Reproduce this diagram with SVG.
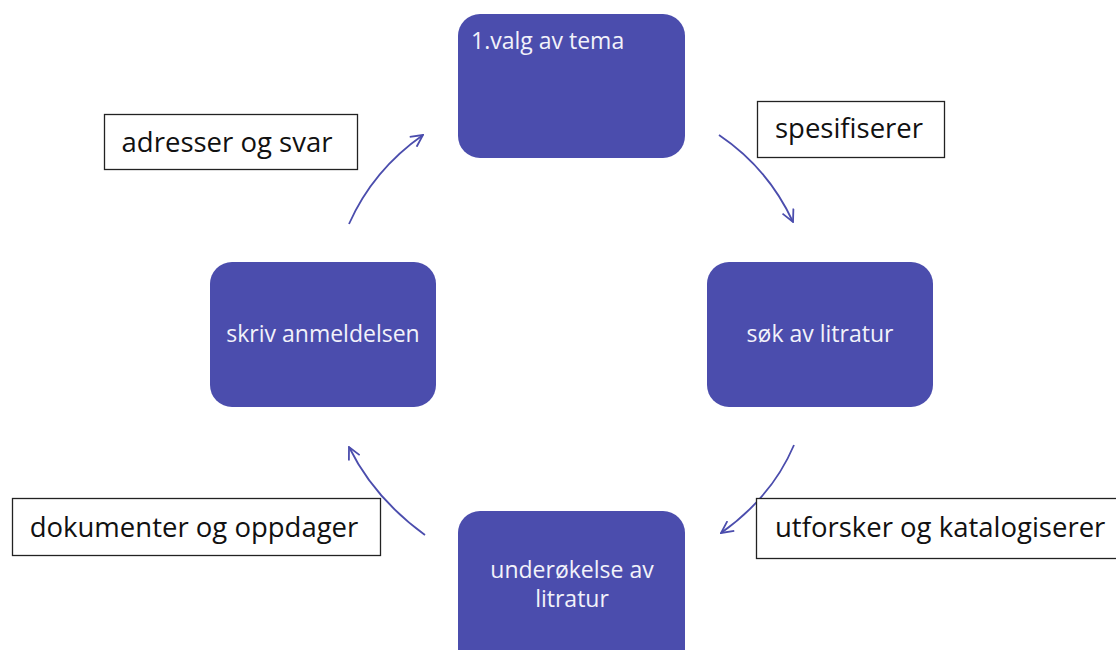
<svg xmlns="http://www.w3.org/2000/svg" width="1116" height="650" viewBox="0 0 1116 650">
<style>
.node{fill:#4b4dad;}
.nt{font-family:"Open Sans","Liberation Sans",sans-serif;font-size:23px;fill:#f2f2fa;}
.lb{fill:#ffffff;stroke:#222222;stroke-width:1.3;}
.lt{font-family:"Open Sans","Liberation Sans",sans-serif;font-size:27.5px;fill:#111111;}
.conn{fill:none;stroke:#4b4dad;stroke-width:1.8;marker-end:url(#arr);}
</style>
<defs>
<marker id="arr" viewBox="0 0 14 14" refX="13" refY="7" markerWidth="14" markerHeight="14" markerUnits="userSpaceOnUse" orient="auto">
<path d="M1,1 L13,7 L1,13" fill="none" stroke="#4b4dad" stroke-width="1.8"/>
</marker>
</defs>
<rect width="1116" height="650" fill="#ffffff"/>
<g id="node-tema"><rect class="node" x="458" y="14" width="227" height="144" rx="22"/><text class="nt" x="471" y="49">1.valg av tema</text></g>
<g id="node-sok"><rect class="node" x="707" y="262" width="226" height="145" rx="22"/><text class="nt" x="820" y="342" text-anchor="middle">søk av litratur</text></g>
<g id="node-skriv"><rect class="node" x="210" y="262" width="226" height="145" rx="22"/><text class="nt" x="323" y="342" text-anchor="middle">skriv anmeldelsen</text></g>
<g id="node-under"><rect class="node" x="458" y="511" width="227" height="160" rx="22"/><text class="nt" x="572" y="578" text-anchor="middle">underøkelse av</text><text class="nt" x="572" y="607" text-anchor="middle">litratur</text></g>
<g id="connectors">
<path class="conn" d="M719,135 Q768,168 793,222"/>
<path class="conn" d="M794,445 Q772,497 721,533"/>
<path class="conn" d="M425,535 Q374,498 349,447"/>
<path class="conn" d="M349,224 Q373,170 423,135"/>
</g>
<g id="label-spesifiserer"><rect class="lb" x="757.5" y="101.5" width="187" height="56"/><text class="lt" x="849" y="138" text-anchor="middle">spesifiserer</text></g>
<g id="label-adresser"><rect class="lb" x="104.5" y="114.5" width="253" height="55"/><text class="lt" x="227" y="152" text-anchor="middle">adresser og svar</text></g>
<g id="label-utforsker"><rect class="lb" x="756.5" y="498.5" width="370" height="60"/><text class="lt" x="775" y="537">utforsker og katalogiserer</text></g>
<g id="label-dokumenter"><rect class="lb" x="12.5" y="498.5" width="368" height="57"/><text class="lt" x="194" y="537" text-anchor="middle">dokumenter og oppdager</text></g>
</svg>
